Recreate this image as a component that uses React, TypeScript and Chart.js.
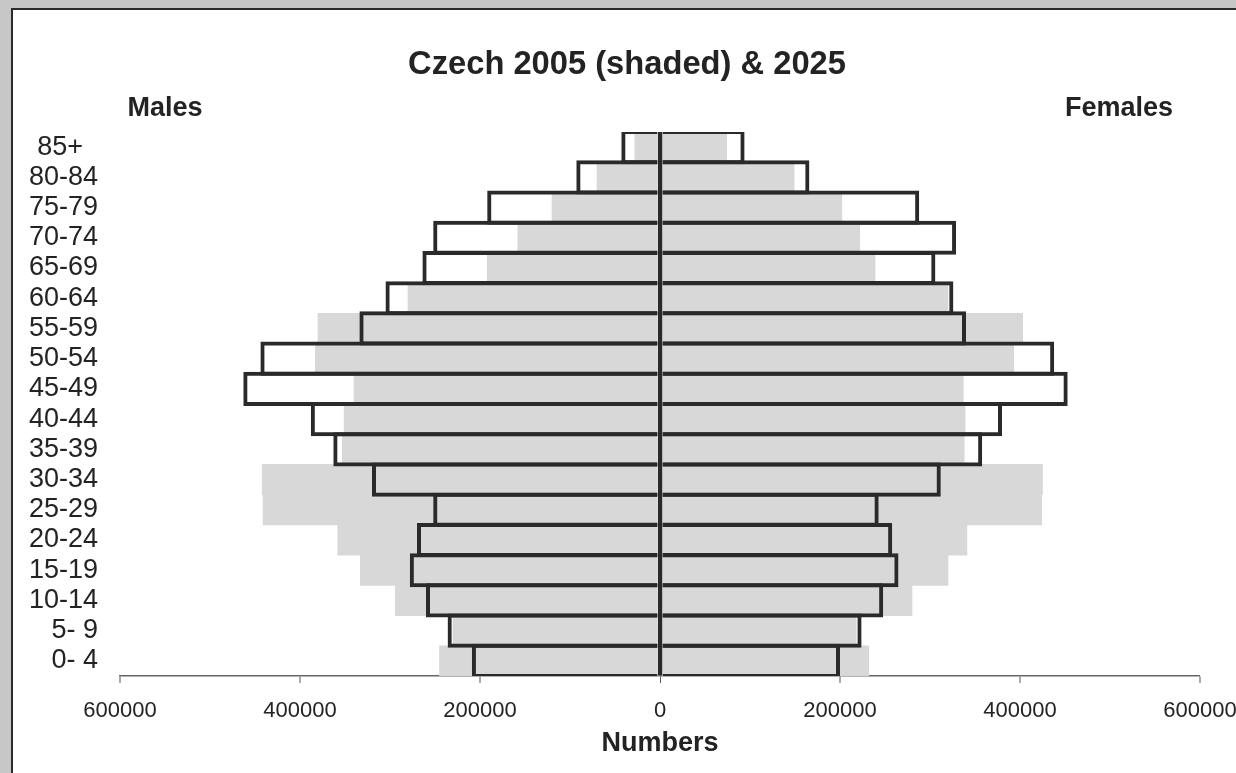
import React, { useEffect, useRef } from "react";
import { Chart, registerables } from "chart.js";

Chart.register(...registerables);

const ageGroups = ["85+  ", "80-84", "75-79", "70-74", "65-69", "60-64", "55-59", "50-54", "45-49", "40-44", "35-39", "30-34", "25-29", "20-24", "15-19", "10-14", "5- 9", "0- 4"];

const males2025 = [43000, 93000, 192000, 252000, 264000, 305000, 334000, 444000, 463000, 388000, 363000, 320000, 252000, 270000, 278000, 260000, 236000, 209000];
const females2025 = [94000, 166000, 288000, 329000, 306000, 326000, 340000, 438000, 453000, 380000, 358000, 312000, 243000, 258000, 265000, 248000, 224000, 200000];
const males2005 = [28000, 70000, 120000, 158000, 192000, 280000, 380000, 383000, 340000, 351000, 353000, 442000, 441000, 358000, 333000, 294000, 230000, 245000];
const females2005 = [74000, 149000, 202000, 222000, 239000, 320000, 403000, 393000, 337000, 339000, 338000, 425000, 424000, 341000, 320000, 280000, 218000, 232000];

const xTicks = [-600000, -400000, -200000, 0, 200000, 400000, 600000];

const titleText = "Czech 2005 (shaded) & 2025";
const leftHeading = "Males";
const rightHeading = "Females";

const FONT = "'Liberation Sans', Arial, Helvetica, sans-serif";
const TEXT = "#232323";
const OUTLINE = "#2a2a2a";
const SHADE = "#d8d8d8";

const headings = {
  id: "headings",
  afterDraw(chart: any) {
    const ctx = chart.ctx;
    ctx.save();
    ctx.fillStyle = TEXT;
    ctx.textAlign = "center";
    ctx.textBaseline = "middle";
    ctx.font = `bold 32.7px ${FONT}`;
    ctx.fillText(titleText, 627, 65);
    ctx.font = `bold 27px ${FONT}`;
    ctx.fillText(leftHeading, 165, 109);
    ctx.fillText(rightHeading, 1119, 109);
    ctx.restore();
  },
};

export default function App() {
  const ref = useRef<HTMLCanvasElement | null>(null);

  useEffect(() => {
    document.body.style.margin = "0";
    if (!ref.current) return;
    const chart = new Chart(ref.current, {
      type: "bar",
      data: {
        labels: ageGroups,
        datasets: [
          {
            label: "Males 2025",
            data: males2025.map((v) => -v),
            backgroundColor: "rgba(0,0,0,0)",
            borderColor: OUTLINE,
            borderWidth: { top: 4, bottom: 4, left: 4, right: 0 },
            borderSkipped: false,
            barPercentage: 1.13,
            categoryPercentage: 1,
            grouped: false,
            order: 0,
          },
          {
            label: "Females 2025",
            data: females2025,
            backgroundColor: "rgba(0,0,0,0)",
            borderColor: OUTLINE,
            borderWidth: { top: 4, bottom: 4, left: 0, right: 4 },
            borderSkipped: false,
            barPercentage: 1.13,
            categoryPercentage: 1,
            grouped: false,
            order: 0,
          },
          {
            label: "Males 2005",
            data: males2005.map((v) => -v),
            backgroundColor: SHADE,
            borderWidth: 0,
            barPercentage: 1,
            categoryPercentage: 1,
            grouped: false,
            order: 1,
          },
          {
            label: "Females 2005",
            data: females2005,
            backgroundColor: SHADE,
            borderWidth: 0,
            barPercentage: 1,
            categoryPercentage: 1,
            grouped: false,
            order: 1,
          },
        ],
      },
      options: {
        indexAxis: "y",
        responsive: false,
        animation: false,
        devicePixelRatio: 1,
        layout: { padding: { left: 0, right: 36, top: 132, bottom: 0 } },
        plugins: {
          legend: { display: false },
          tooltip: { enabled: false },
          title: { display: false },
        },
        scales: {
          x: {
            type: "linear",
            min: -600000,
            max: 600000,
            afterBuildTicks: (scale: any) => {
              scale.ticks = xTicks.map((v) => ({ value: v }));
            },
            afterFit: (scale: any) => {
              scale.height = 97;
              scale.paddingLeft = 0;
              scale.paddingRight = 0;
            },
            ticks: {
              color: TEXT,
              font: { family: FONT, size: 22 },
              padding: 15,
              maxRotation: 0,
              autoSkip: false,
              callback: (v: any) => String(Math.abs(Number(v))),
            },
            grid: {
              drawOnChartArea: true,
              drawTicks: true,
              tickLength: 7,
              color: OUTLINE,
              lineWidth: (ctx: any) => (ctx.tick && ctx.tick.value === 0 ? 5 : 0),
              tickColor: "#555",
              tickWidth: 1,
            },
            border: { display: true, color: "#666", width: 1.5 },
            title: {
              display: true,
              text: "Numbers",
              color: TEXT,
              font: { family: FONT, size: 27, weight: "bold" },
              padding: { top: 0, bottom: 13 },
            },
          },
          y: {
            type: "category",
            afterFit: (scale: any) => {
              scale.width = 120;
            },
            ticks: {
              color: TEXT,
              font: { family: FONT, size: 27 },
              padding: 22,
              autoSkip: false,
            },
            grid: { display: false, drawTicks: false },
            border: { display: false },
          },
        },
      },
      plugins: [headings],
    });
    return () => chart.destroy();
  }, []);

  return (
    <div style={{ position: "relative", width: 1236, height: 773, overflow: "hidden", background: "#c7c7c7" }}>
      <div
        style={{
          position: "absolute",
          left: 11,
          top: 8,
          width: 1300,
          height: 820,
          background: "#ffffff",
          border: "2px solid #2a2a2a",
        }}
      />
      <canvas ref={ref} width={1236} height={773} style={{ position: "absolute", left: 0, top: 0 }} />
    </div>
  );
}
